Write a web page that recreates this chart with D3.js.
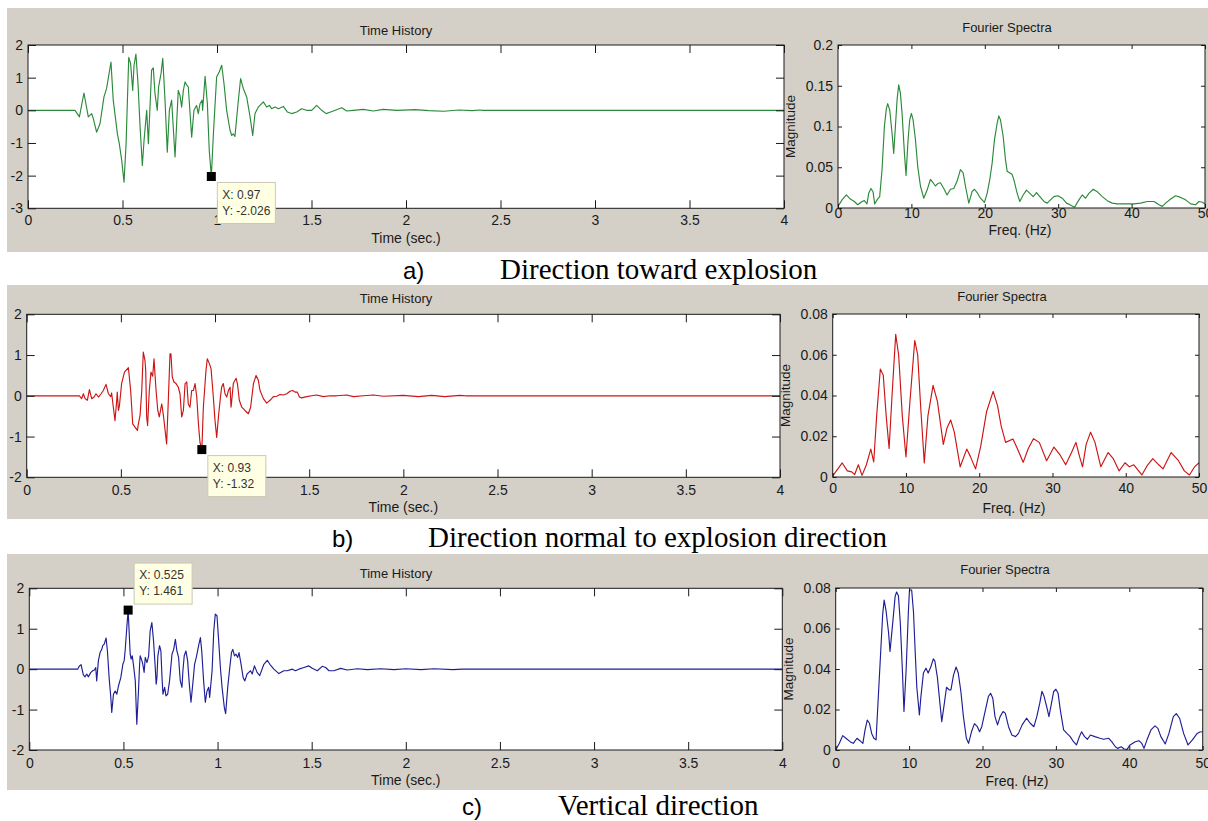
<!DOCTYPE html>
<html><head><meta charset="utf-8">
<script src="https://cdn.jsdelivr.net/npm/d3@7"></script>
<style>body{margin:0;background:#fff}svg{display:block}</style>
</head><body>
<svg id="chart" width="1208" height="821"></svg>
<script>
// ---------- tick values ----------
const timeXTicks = [0, 0.5, 1, 1.5, 2, 2.5, 3, 3.5, 4];
const freqXTicks = [0, 10, 20, 30, 40, 50];
const timeYTicksA = [-3, -2, -1, 0, 1, 2];
const timeYTicksBC = [-2, -1, 0, 1, 2];
const specYTicksA = [0, 0.05, 0.1, 0.15, 0.2];
const specYTicksBC = [0, 0.02, 0.04, 0.06, 0.08];

// ---------- captions ----------
const captionLetters = ["a)", "b)", "c)"];
const captionTexts = ["Direction toward explosion", "Direction normal to explosion direction", "Vertical direction"];

// ---------- data tips ----------
const tipA = [0.97, -2.026];
const tipB = [0.93, -1.32];
const tipC = [0.525, 1.461];
const tipLabelsA = ["X: 0.97", "Y: -2.026"];
const tipLabelsB = ["X: 0.93", "Y: -1.32"];
const tipLabelsC = ["X: 0.525", "Y: 1.461"];

// ---------- a) time history [t, accel] ----------
const timeA = [[0,0],[0.249,0],[0.272,-0.20],[0.296,0.53],[0.319,-0.20],[0.337,-0.10],[0.346,-0.26],[0.363,-0.67],
[0.381,-0.41],[0.402,0.41],[0.416,0.67],[0.439,1.48],[0.451,0.31],[0.473,-0.72],[0.483,-1.02],[0.496,-1.54],[0.508,-2.20],
[0.519,-1.02],[0.533,1.62],[0.543,1.43],[0.554,0.61],[0.561,1.38],[0.571,1.72],[0.582,0.82],[0.593,-0.51],[0.605,-1.69],
[0.614,-0.92],[0.628,0],[0.637,-1.02],[0.654,1.23],[0.663,1.30],[0.672,0.51],[0.684,0],[0.691,0.72],[0.704,1.13],[0.713,1.59],
[0.725,0.31],[0.737,-1.28],[0.748,0],[0.760,0.31],[0.778,-1.43],[0.795,0.61],[0.804,0.46],[0.813,0.10],[0.822,0.61],[0.831,0.87],
[0.840,0.77],[0.848,0.72],[0.866,-0.82],[0.878,0],[0.892,0.15],[0.901,-0.10],[0.910,0.20],[0.921,0.31],[0.924,0],[0.937,1.04],
[0.949,0.20],[0.959,-1.23],[0.97,-2.026],[0.981,-0.72],[0.998,1.02],[1.012,1.18],[1.025,1.38],[1.037,0.82],[1.051,0],[1.069,-0.61],
[1.078,-0.77],[1.086,-0.72],[1.095,-0.80],[1.113,0.31],[1.125,0.97],[1.139,0.67],[1.157,0.41],[1.175,-0.20],[1.189,-0.77],
[1.201,-0.10],[1.219,0.10],[1.245,0.26],[1.263,0.10],[1.277,0.15],[1.289,0.05],[1.307,0.10],[1.325,0.05],[1.351,0.12],
[1.372,-0.05],[1.395,-0.10],[1.422,-0.05],[1.448,0.05],[1.474,0],[1.501,0],[1.527,0.15],[1.554,0],[1.577,-0.10],[1.601,-0.05],
[1.633,0.02],[1.660,0.08],[1.686,-0.02],[1.721,0],[1.774,0.03],[1.827,-0.02],[1.880,0.03],[1.951,0],[2.05,0.02],[2.12,-0.01],
[2.20,-0.03],[2.28,0.01],[2.35,-0.01],[2.39,0.01],[2.41,0],[4,0]];

// ---------- a) Fourier spectrum [Hz, magnitude] ----------
const specA = [[0,0.002],[0.55,0.010],[1.14,0.016],[1.68,0.011],[2.23,0.008],[2.68,0.004],[3.27,0.008],[3.59,0.009],[3.95,0.005],
[4.18,0.018],[4.50,0.024],[4.77,0.020],[5.0,0.005],[5.32,0.010],[5.68,0.014],[6.0,0.047],[6.32,0.100],[6.59,0.122],[6.77,0.128],
[7.05,0.120],[7.36,0.092],[7.59,0.067],[7.82,0.100],[8.05,0.133],[8.27,0.151],[8.50,0.141],[8.73,0.116],[9.05,0.067],[9.27,0.040],
[9.55,0.084],[9.77,0.108],[10.0,0.116],[10.23,0.108],[10.55,0.084],[10.86,0.051],[11.23,0.027],[11.68,0.012],[12.14,0.022],
[12.59,0.035],[12.95,0.031],[13.27,0.027],[13.59,0.030],[13.95,0.031],[14.41,0.024],[14.86,0.016],[15.32,0.023],[15.77,0.024],
[16.23,0.033],[16.68,0.047],[17.05,0.043],[17.36,0.027],[17.82,0.006],[18.27,0.020],[18.59,0.023],[18.95,0.019],[19.41,0.012],
[19.95,0.007],[20.32,0.018],[20.68,0.035],[21.0,0.055],[21.32,0.084],[21.68,0.104],[21.91,0.113],[22.14,0.108],[22.5,0.088],
[22.82,0.059],[23.05,0.045],[23.41,0.043],[23.73,0.041],[23.95,0.035],[24.41,0.018],[24.77,0.008],[25.23,0.016],[25.68,0.022],
[26.14,0.018],[26.59,0.014],[27.05,0.019],[27.5,0.014],[28.05,0.008],[28.5,0.006],[28.95,0.010],[29.41,0.014],[29.95,0.015],
[30.55,0.012],[31.14,0.006],[31.59,0.004],[32.23,0.001],[32.82,0.010],[33.27,0.016],[33.73,0.012],[34.18,0.018],[34.77,0.023],
[35.32,0.020],[36.0,0.014],[36.68,0.009],[37.36,0.006],[38.05,0.005],[39.41,0.005],[40.32,0.005],[41.23,0.006],[42.14,0.008],
[43.05,0.008],[43.73,0.004],[44.18,0.002],[44.64,0.006],[45.32,0.011],[46.0,0.015],[46.68,0.013],[47.36,0.010],[48.05,0.005],
[48.73,0.004],[49.18,0.008],[49.64,0.007],[50,0.005]];

// ---------- b) time history ----------
const timeB = [[0,0],[0.280,0],[0.292,-0.07],[0.301,0.05],[0.310,-0.07],[0.322,-0.11],[0.333,0.15],[0.345,-0.07],[0.358,-0.03],
[0.368,0.05],[0.381,-0.03],[0.395,0.05],[0.407,0.13],[0.421,0.28],[0.434,0.05],[0.446,-0.02],[0.451,0.07],[0.460,-0.28],
[0.469,-0.61],[0.478,-0.11],[0.481,0.09],[0.487,-0.36],[0.492,-0.26],[0.504,0.30],[0.519,0.58],[0.540,0.69],[0.552,0.13],
[0.563,-0.69],[0.575,-0.77],[0.588,-0.85],[0.593,-0.69],[0.602,-0.48],[0.611,0.13],[0.619,1.07],[0.628,0.87],[0.632,0.62],
[0.637,-0.52],[0.642,-0.73],[0.651,0.13],[0.660,0.58],[0.669,0.48],[0.676,0.91],[0.681,0.54],[0.687,0.13],[0.696,-0.36],
[0.704,-0.52],[0.717,-0.20],[0.726,-0.48],[0.735,-0.85],[0.743,-1.18],[0.752,-0.11],[0.761,1.03],[0.766,1.03],[0.773,0.46],
[0.782,0.34],[0.793,0.30],[0.805,0.21],[0.814,0.05],[0.823,-0.52],[0.832,-0.36],[0.841,0.30],[0.850,0.34],[0.858,-0.20],
[0.867,-0.28],[0.876,0.13],[0.885,0.13],[0.894,0.30],[0.903,-0.03],[0.912,-0.69],[0.920,-1.14],[0.93,-1.32],[0.938,-0.28],
[0.952,0.62],[0.959,0.91],[0.970,0.79],[0.979,0.66],[0.991,-0.03],[1.000,-0.61],[1.009,-1.02],[1.018,-0.52],[1.027,-0.11],
[1.035,0.21],[1.044,0.30],[1.053,0.05],[1.062,-0.03],[1.071,0.13],[1.080,0.21],[1.085,-0.28],[1.088,-0.16],[1.097,0.30],
[1.112,0.43],[1.119,0.30],[1.129,-0.11],[1.142,-0.28],[1.159,-0.36],[1.177,-0.44],[1.189,-0.28],[1.204,0.30],[1.218,0.50],
[1.230,0.38],[1.239,0.13],[1.257,-0.07],[1.274,-0.18],[1.292,-0.11],[1.310,-0.02],[1.327,-0.01],[1.345,0.03],[1.363,0.02],
[1.381,0.05],[1.398,0.11],[1.412,0.13],[1.425,0.09],[1.437,0.09],[1.448,-0.03],[1.460,-0.05],[1.487,-0.02],[1.513,0],
[1.540,0.02],[1.575,-0.02],[1.611,0],[1.646,0],[1.699,0.02],[1.735,-0.02],[1.788,0],[1.841,0.02],[1.894,-0.01],[2.0,0.01],
[2.08,-0.02],[2.15,0.01],[2.22,-0.02],[2.30,0.01],[2.33,0],[4,0]];

// ---------- b) Fourier spectrum ----------
const specB = [[0,0.0005],[0.5,0.003],[1.3,0.0069],[2.0,0.003],[2.6,0.0025],[3.0,0.0012],[3.5,0.006],[4.0,0.0008],[4.6,0.006],
[5.2,0.0137],[5.6,0.0074],[6.0,0.030],[6.5,0.053],[6.9,0.050],[7.3,0.030],[7.7,0.014],[8.1,0.040],[8.6,0.070],[9.0,0.060],
[9.5,0.030],[10.0,0.0098],[10.5,0.035],[11.2,0.067],[11.6,0.060],[12.0,0.035],[12.5,0.0069],[13.0,0.030],[13.7,0.045],
[14.3,0.037],[15.1,0.016],[15.6,0.024],[16.1,0.028],[16.6,0.022],[17.4,0.005],[18.3,0.0137],[18.8,0.010],[19.5,0.004],
[20.2,0.015],[21.0,0.032],[21.9,0.042],[22.5,0.035],[23.0,0.025],[23.6,0.017],[24.6,0.0187],[25.2,0.014],[26.0,0.0072],
[26.7,0.014],[27.4,0.0188],[28.2,0.017],[29.2,0.008],[30.2,0.0147],[31.0,0.011],[31.8,0.006],[32.6,0.012],[33.2,0.017],
[33.7,0.010],[34.1,0.005],[34.6,0.016],[35.2,0.022],[35.8,0.017],[36.6,0.005],[37.6,0.012],[38.3,0.009],[39.1,0.003],
[39.9,0.007],[40.5,0.005],[41.1,0.006],[42.2,0.001],[43.0,0.006],[43.7,0.009],[44.5,0.006],[45.1,0.004],[46.2,0.012],
[47.2,0.008],[48.0,0.003],[48.7,0.001],[49.4,0.005],[50,0.007]];

// ---------- c) time history ----------
const timeC = [[0,0],[0.257,0],[0.266,0.08],[0.275,0.11],[0.287,-0.14],[0.296,-0.19],[0.305,-0.12],[0.314,-0.19],[0.327,-0.08],
[0.337,-0.04],[0.346,-0.02],[0.353,0.04],[0.358,-0.29],[0.367,0.21],[0.376,0.41],[0.385,0.49],[0.390,0.58],[0.398,0.62],
[0.408,0.77],[0.415,0.45],[0.424,-0.21],[0.433,-0.70],[0.438,-1.07],[0.447,-0.62],[0.456,-0.54],[0.465,-0.62],[0.474,-0.41],
[0.486,-0.21],[0.497,0.12],[0.504,0.21],[0.509,0.45],[0.518,1.03],[0.525,1.461],[0.536,0.37],[0.541,0.25],[0.547,0.33],
[0.554,0.08],[0.563,-0.29],[0.571,-1.36],[0.580,-0.54],[0.586,0.12],[0.589,0.33],[0.598,0.21],[0.603,0.12],[0.610,-0.08],
[0.616,0.29],[0.625,0.16],[0.634,0.33],[0.642,0.95],[0.651,1.15],[0.660,0.70],[0.669,0.04],[0.674,-0.37],[0.678,-0.21],
[0.683,0.33],[0.692,0.58],[0.699,0.45],[0.705,-0.21],[0.710,-0.62],[0.719,-0.45],[0.726,-0.66],[0.735,-0.62],[0.745,-0.29],
[0.758,0.37],[0.767,0.49],[0.776,0.74],[0.784,0.45],[0.793,0.29],[0.802,-0.29],[0.811,-0.45],[0.816,-0.04],[0.823,0.33],
[0.832,0.45],[0.841,0.21],[0.850,-0.37],[0.859,-0.82],[0.870,-0.29],[0.878,0.12],[0.887,0.29],[0.894,0.45],[0.901,0.62],
[0.909,0.78],[0.916,0.45],[0.926,-0.29],[0.935,-0.82],[0.944,-0.54],[0.953,-0.45],[0.958,-0.70],[0.971,-0.04],[0.980,0.95],
[0.988,1.36],[0.997,1.32],[1.006,0.70],[1.015,0.04],[1.024,-0.45],[1.036,-0.95],[1.043,-1.10],[1.054,-0.45],[1.065,0.04],
[1.074,0.41],[1.081,0.49],[1.090,0.33],[1.098,0.37],[1.107,0.29],[1.114,0.41],[1.125,0.12],[1.136,-0.21],[1.145,-0.29],
[1.157,-0.12],[1.166,-0.08],[1.175,-0.04],[1.184,-0.12],[1.196,0.08],[1.210,-0.08],[1.224,-0.16],[1.246,0.12],[1.264,0.22],
[1.278,0.12],[1.299,0],[1.326,-0.11],[1.352,-0.04],[1.370,-0.04],[1.397,0],[1.414,-0.04],[1.432,0],[1.459,0.04],[1.485,0.08],
[1.503,0.02],[1.530,-0.04],[1.556,0.07],[1.574,0.04],[1.592,-0.04],[1.618,-0.04],[1.654,0.02],[1.689,-0.02],[1.743,0.01],
[1.796,-0.01],[1.867,0.01],[1.938,-0.01],[2.0,0.01],[2.08,-0.01],[2.15,0.01],[2.25,-0.01],[2.30,0],[4,0]];

// ---------- c) Fourier spectrum ----------
const specC = [[0,0],[0.5,0.0033],[0.95,0.0071],[1.4,0.0058],[2.0,0.004],[2.4,0.0033],[2.9,0.0058],[3.3,0.0046],[3.7,0.0033],
[4.0,0.0099],[4.3,0.0148],[4.6,0.0132],[4.9,0.0082],[5.2,0.0058],[5.5,0.005],[5.7,0.019],[6.05,0.043],[6.4,0.067],[6.6,0.074],
[6.85,0.069],[7.2,0.058],[7.4,0.0487],[7.8,0.064],[8.1,0.076],[8.3,0.078],[8.55,0.076],[8.8,0.063],[9.1,0.038],[9.3,0.019],
[9.6,0.040],[9.9,0.068],[10.05,0.079],[10.35,0.079],[10.6,0.068],[10.8,0.051],[11.05,0.031],[11.4,0.0173],[11.6,0.026],
[11.95,0.038],[12.3,0.0404],[12.6,0.038],[12.95,0.041],[13.3,0.045],[13.5,0.044],[13.85,0.036],[14.2,0.023],[14.45,0.014],
[14.8,0.023],[15.1,0.031],[15.45,0.0297],[15.7,0.0297],[16.05,0.037],[16.4,0.041],[16.7,0.038],[17.05,0.029],[17.4,0.0165],
[17.8,0.0058],[18.1,0.0033],[18.5,0.009],[18.9,0.013],[19.3,0.0115],[19.6,0.009],[19.9,0.0115],[20.4,0.0198],[20.8,0.0264],
[21.1,0.028],[21.4,0.0256],[21.7,0.0165],[22.05,0.0124],[22.4,0.0165],[22.8,0.019],[23.1,0.0182],[23.55,0.0115],[24.0,0.0074],
[24.5,0.0066],[24.9,0.0082],[25.4,0.0124],[26.0,0.0157],[26.5,0.0132],[27.0,0.0115],[27.4,0.0165],[27.8,0.0231],[28.1,0.029],
[28.4,0.0264],[28.8,0.0206],[29.05,0.0165],[29.4,0.0231],[29.7,0.0289],[30.0,0.030],[30.3,0.028],[30.6,0.0198],[31.05,0.0099],
[31.5,0.0082],[31.95,0.0066],[32.4,0.0041],[32.8,0.0025],[33.2,0.0066],[33.5,0.009],[33.9,0.0066],[34.3,0.0053],[34.7,0.0074],
[35.3,0.0066],[36.0,0.0058],[36.5,0.0053],[37.2,0.0058],[37.6,0.0041],[38.1,0.0016],[38.4,0.0008],[38.9,0.0016],[39.3,0.0005],
[39.7,0.0003],[40.1,0.0025],[40.8,0.0041],[41.3,0.0046],[41.7,0.0033],[42.0,0.0008],[42.4,0.0049],[42.95,0.0099],[43.5,0.0119],
[43.9,0.0107],[44.3,0.0066],[44.9,0.003],[45.4,0.0082],[46.0,0.0165],[46.4,0.018],[46.85,0.0157],[47.4,0.0082],[48.0,0.0025],
[48.6,0.005],[49.2,0.008],[49.6,0.0089],[50,0.009]];

// ---------- layout / style ----------
const SANS = "'Liberation Sans', Arial, sans-serif";
const SERIF = "'Liberation Serif', 'Times New Roman', serif";
const FIGBG = "#d4d0c8";
const INK = "#1a1a1a";

const panels = [
  { bg:[7,8,1208,252], color:"#2b8a3a",
    time:{box:[28,45,784,208.3], ydom:[-3,2], yticks:timeYTicksA, data:timeA, titleY:30, labY:238, tickLabOff:11.5},
    spec:{box:[838,45,1205,208], ydom:[0,0.2], yticks:specYTicksA, data:specA, titleX:1007, titleY:27, labX:1020, labY:230, tickLabOff:5.5, magX:790},
    tip:tipA, tipLabels:tipLabelsA, tipBelow:true,
    cap:{letterX:403, textX:500, y:279}, idx:0 },
  { bg:[7,285,1208,519], color:"#cc1414",
    time:{box:[26.7,314.3,780,477.3], ydom:[-2,2], yticks:timeYTicksBC, data:timeB, titleY:298, labY:507, tickLabOff:12.5},
    spec:{box:[832.7,314,1199,477], ydom:[0,0.08], yticks:specYTicksBC, data:specB, titleX:1002, titleY:296, labX:1014, labY:508, tickLabOff:11, magX:785},
    tip:tipB, tipLabels:tipLabelsB, tipBelow:true,
    cap:{letterX:332, textX:428, y:547}, idx:1 },
  { bg:[7,554,1208,790], color:"#1e1e96",
    time:{box:[29.3,588.3,782.3,750], ydom:[-2,2], yticks:timeYTicksBC, data:timeC, titleY:573, labY:780, tickLabOff:13},
    spec:{box:[835.7,588,1202.7,750], ydom:[0,0.08], yticks:specYTicksBC, data:specC, titleX:1005, titleY:569, labX:1017, labY:781, tickLabOff:13, magX:788},
    tip:tipC, tipLabels:tipLabelsC, tipBelow:false,
    cap:{letterX:462, textX:558, y:815}, idx:2 }
];

const svg = d3.select("#chart");
svg.append("rect").attr("width",1208).attr("height",821).attr("fill","#fff");

function drawPlot(g, cfg, xdom, xticks, tickLen, color) {
  const [x0,y0,x1,y1] = cfg.box;
  const x = d3.scaleLinear().domain(xdom).range([x0,x1]);
  const y = d3.scaleLinear().domain(cfg.ydom).range([y1,y0]);
  g.append("rect").attr("x",x0).attr("y",y0).attr("width",x1-x0).attr("height",y1-y0).attr("fill","#fff");

  const line = d3.line().x(d=>x(d[0])).y(d=>y(d[1]));
  const clipId = "clip" + Math.round(x0) + "_" + Math.round(y0);
  g.append("clipPath").attr("id",clipId).append("rect").attr("x",x0).attr("y",y0-1).attr("width",x1-x0).attr("height",y1-y0+2);
  g.append("path").datum(cfg.data).attr("d",line).attr("fill","none").attr("stroke",color)
    .attr("stroke-width",1.15).attr("stroke-linejoin","round").attr("clip-path","url(#"+clipId+")");

  const fmt = d => String(d);
  const styleAxis = (a) => {
    a.select(".domain").remove();
    a.selectAll(".tick line").attr("stroke",INK).attr("stroke-width",1);
    a.selectAll("text").attr("font-family",SANS).attr("font-size",14).attr("fill",INK);
  };
  const bottom = g.append("g").attr("transform",`translate(0,${y1})`)
    .call(d3.axisBottom(x).tickValues(xticks).tickFormat(fmt).tickSize(-tickLen).tickPadding(cfg.tickLabOff - 5));
  styleAxis(bottom);
  const top = g.append("g").attr("transform",`translate(0,${y0})`)
    .call(d3.axisTop(x).tickValues(xticks).tickFormat("").tickSize(-tickLen));
  styleAxis(top);
  const left = g.append("g").attr("transform",`translate(${x0},0)`)
    .call(d3.axisLeft(y).tickValues(cfg.yticks).tickFormat(fmt).tickSize(-tickLen).tickPadding(5));
  styleAxis(left);
  const right = g.append("g").attr("transform",`translate(${x1},0)`)
    .call(d3.axisRight(y).tickValues(cfg.yticks).tickFormat("").tickSize(-tickLen));
  styleAxis(right);
  g.append("rect").attr("x",x0).attr("y",y0).attr("width",x1-x0).attr("height",y1-y0)
    .attr("fill","none").attr("stroke",INK).attr("stroke-width",1);
  return {x,y};
}

panels.forEach(p => {
  const g = svg.append("g");
  const [bx0,by0,bx1,by1] = p.bg;
  g.append("rect").attr("x",bx0).attr("y",by0).attr("width",bx1-bx0).attr("height",by1-by0).attr("fill",FIGBG);

  // time history
  const ts = drawPlot(g, p.time, [0,4], timeXTicks, 8, p.color);
  g.append("text").attr("x",396).attr("y",p.time.titleY).attr("dy","0.35em").attr("text-anchor","middle")
    .attr("font-family",SANS).attr("font-size",13).attr("fill",INK).text("Time History");
  g.append("text").attr("x",(p.time.box[0]+p.time.box[2])/2).attr("y",p.time.labY).attr("dy","0.35em").attr("text-anchor","middle")
    .attr("font-family",SANS).attr("font-size",14).attr("fill",INK).text("Time (sec.)");

  // fourier spectra
  drawPlot(g, p.spec, [0,50], freqXTicks, 4, p.color);
  g.append("text").attr("x",p.spec.titleX).attr("y",p.spec.titleY).attr("dy","0.35em").attr("text-anchor","middle")
    .attr("font-family",SANS).attr("font-size",13).attr("fill",INK).text("Fourier Spectra");
  g.append("text").attr("x",p.spec.labX).attr("y",p.spec.labY).attr("dy","0.35em").attr("text-anchor","middle")
    .attr("font-family",SANS).attr("font-size",14).attr("fill",INK).text("Freq. (Hz)");
  const my = (p.spec.box[1]+p.spec.box[3])/2;
  g.append("text").attr("transform",`translate(${p.spec.magX},${my}) rotate(-90)`).attr("dy","0.35em")
    .attr("text-anchor","middle").attr("font-family",SANS).attr("font-size",13.5).attr("fill",INK).text("Magnitude");

  // data tip
  const mx = ts.x(p.tip[0]), mY = ts.y(p.tip[1]);
  g.append("rect").attr("x",mx-4.5).attr("y",mY-4.5).attr("width",9).attr("height",9).attr("fill","#000");
  const bw = 58, bh = 41;
  const bxp = mx + 6, byp = p.tipBelow ? mY + 6 : mY - 6 - bh;
  g.append("rect").attr("x",bxp).attr("y",byp).attr("width",bw).attr("height",bh)
    .attr("fill","#ffffe3").attr("stroke","#c9c9b4").attr("stroke-width",1);
  p.tipLabels.forEach((t,i) => {
    g.append("text").attr("x",bxp+5).attr("y",byp+12+i*16).attr("dy","0.35em")
      .attr("font-family",SANS).attr("font-size",12).attr("fill","#333").text(t);
  });

  // caption
  svg.append("text").attr("x",p.cap.letterX).attr("y",p.cap.y).attr("font-family",SANS).attr("font-size",24)
    .attr("fill","#000").text(captionLetters[p.idx]);
  svg.append("text").attr("x",p.cap.textX).attr("y",p.cap.y).attr("font-family",SERIF).attr("font-size",29)
    .attr("fill","#000").text(captionTexts[p.idx]);
});
</script>
</body></html>
